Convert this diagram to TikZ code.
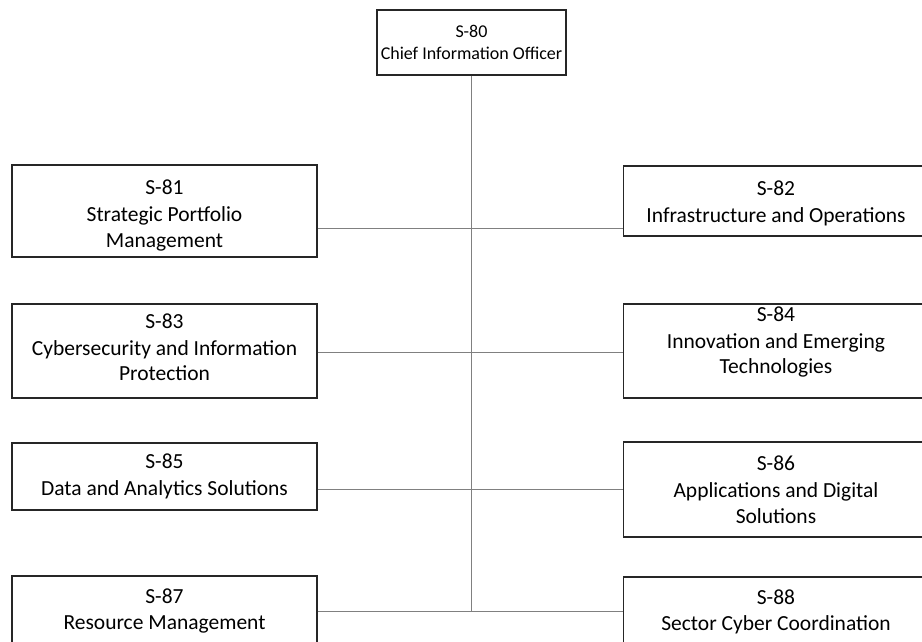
\documentclass[tikz,border=0pt]{standalone}
\usepackage{fontspec}
\setmainfont{Carlito}
\usepackage{tikz}

\begin{document}
\begin{tikzpicture}[x=1pt, y=-1pt, every node/.style={rectangle, draw=black!85, line width=1.2pt, inner sep=0pt, align=center, minimum width=305pt, font=\fontsize{21.5}{25.5}\selectfont}]

	\tikzset{edge/.style = {draw=black!50, line width=1pt}}
	\useasboundingbox (0,0) rectangle (922,642);

	\node[minimum width=189pt, minimum height=65pt, font=\fontsize{18}{21}\selectfont] (80) at (471.5,42.5) {S-80\\[1pt]Chief Information Officer};

	\node[minimum height=92pt, text height=76pt] (81) at (164.5,211)   {S-81\\[1.5pt]Strategic Portfolio\\Management};
	\node[minimum height=94pt, text depth=8pt] (83) at (164.5,351)   {S-83\\[1.5pt]Cybersecurity and Information\\Protection};
	\node[minimum height=67pt] (85) at (164.5,476.5) {S-85\\[1.5pt]Data and Analytics Solutions};
	\node[minimum height=70pt] (87) at (164.5,611)   {S-87\\Resource Management};

	\node[minimum height=70pt, text height=47pt] (82) at (776,201)     {S-82\\[1.5pt]Infrastructure and Operations};
	\node[minimum height=94pt, text depth=22pt] (84) at (776,351)     {S-84\\[1.5pt]Innovation and Emerging\\Technologies};
	\node[minimum height=95pt] (86) at (776,489.5)   {S-86\\[1.5pt]Applications and Digital\\Solutions};
	\node[minimum height=70pt] (88) at (776,612)     {S-88\\[1pt]Sector Cyber Coordination};

	\coordinate (j1) at (471.5,228);
	\coordinate (j2) at (471.5,352);
	\coordinate (j3) at (471.5,489);
	\coordinate (j4) at (471.5,611.5);

	\draw[edge] (80) -- (j4);
	\foreach \left/\right/\join in {81/82/j1,83/84/j2,85/86/j3,87/88/j4}
	\draw[edge] (\left.east |- \join) -- (\right.west |- \join);

\end{tikzpicture}
\end{document}
